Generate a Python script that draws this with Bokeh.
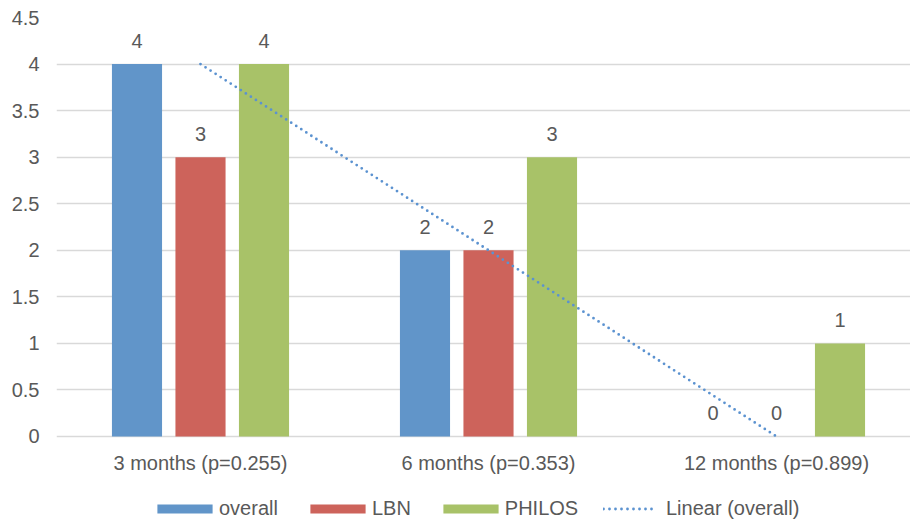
import numpy as np
from bokeh.plotting import figure
from bokeh.models import Range1d, FixedTicker, CustomJSTickFormatter, Legend, LegendItem, ColumnDataSource
from bokeh.core.properties import value
from bokeh.embed import file_html
from bokeh.resources import INLINE

categories = ["3 months (p=0.255)", "6 months (p=0.353)", "12 months (p=0.899)"]
overall = [4, 2, 0]
lbn = [3, 2, 0]
philos = [4, 3, 1]
series_names = ["overall", "LBN", "PHILOS"]
trend_name = "Linear (overall)"
y_ticks = [0, 0.5, 1, 1.5, 2, 2.5, 3, 3.5, 4, 4.5]

colors = ["#6195C9", "#CD635B", "#A8C268"]
TEXT = "#595959"
FONT = "Liberation Sans"

W, H = 910, 522
left, top = 56, 17
cat_px = 288.0
unit_px = 93.11
frame_w = W - left
frame_h = H - top
y_max = 4.5
y_min = y_max - frame_h / unit_px

p = figure(width=W, height=H, output_backend="svg", toolbar_location=None,
           x_range=Range1d(0.5, 0.5 + frame_w / cat_px), y_range=Range1d(y_min, y_max),
           min_border_left=left, min_border_right=0, min_border_top=top,
           min_border_bottom=0)
p.outline_line_color = None
p.background_fill_color = "white"
p.border_fill_color = "white"

xs = np.arange(1, len(categories) + 1)
offsets = [-0.2205, 0.0, 0.2205]
bw = 0.174
renderers = []
for vals, off, col in zip([overall, lbn, philos], offsets, colors):
    src = ColumnDataSource(dict(x=xs + off, top=vals, lab=[str(v) for v in vals]))
    r = p.vbar(x="x", top="top", bottom=0, width=bw, source=src, fill_color=col, line_color=None)
    renderers.append(r)
    p.text(x="x", y="top", text="lab", source=src, text_align="center",
           text_baseline="alphabetic", y_offset=-23, text_color=TEXT,
           text_font=value(FONT), text_font_size="20px")

# linear trend of overall
coef = np.polyfit(xs, overall, 1)
ty = np.polyval(coef, xs)
tr = p.line(x=xs, y=ty, line_color="#5B92D0", line_width=2.8, line_dash="0 6", line_cap="round")

# axes
p.yaxis.ticker = FixedTicker(ticks=y_ticks)
p.yaxis.formatter = CustomJSTickFormatter(code="return tick.toString();")
p.xaxis.ticker = FixedTicker(ticks=list(xs))
p.xaxis.formatter = CustomJSTickFormatter(args=dict(cats=categories),
                                         code="return cats[Math.round(tick) - 1];")
p.xaxis.fixed_location = 0
for ax in (p.xaxis, p.yaxis):
    ax.axis_line_color = None
    ax.major_tick_line_color = None
    ax.minor_tick_line_color = None
    ax.major_tick_out = 0
    ax.major_tick_in = 0
    ax.major_label_text_font = FONT
    ax.major_label_text_font_size = "20px"
    ax.major_label_text_color = TEXT
p.yaxis.major_label_standoff = 17
p.xaxis.major_label_standoff = 16

p.xgrid.grid_line_color = None
p.ygrid.grid_line_color = "#D9D9D9"
p.ygrid.grid_line_width = 1.4

common = dict(orientation="horizontal", padding=0, margin=0, border_line_color=None,
              background_fill_alpha=0, label_text_font=FONT, label_text_font_size="20px",
              label_text_color=TEXT)
bar_items = [LegendItem(label=n, renderers=[r]) for n, r in zip(series_names, renderers)]
legend1 = Legend(items=bar_items, location=(94, 2), glyph_width=69, glyph_height=11,
                 label_standoff=0, spacing=25, **common)
legend2 = Legend(items=[LegendItem(label=trend_name, renderers=[tr])], location=(547, 2),
                 glyph_width=53, glyph_height=11, label_standoff=10, **common)
p.add_layout(legend1, "center")
p.add_layout(legend2, "center")

open("out.html", "w").write(file_html(p, INLINE))
